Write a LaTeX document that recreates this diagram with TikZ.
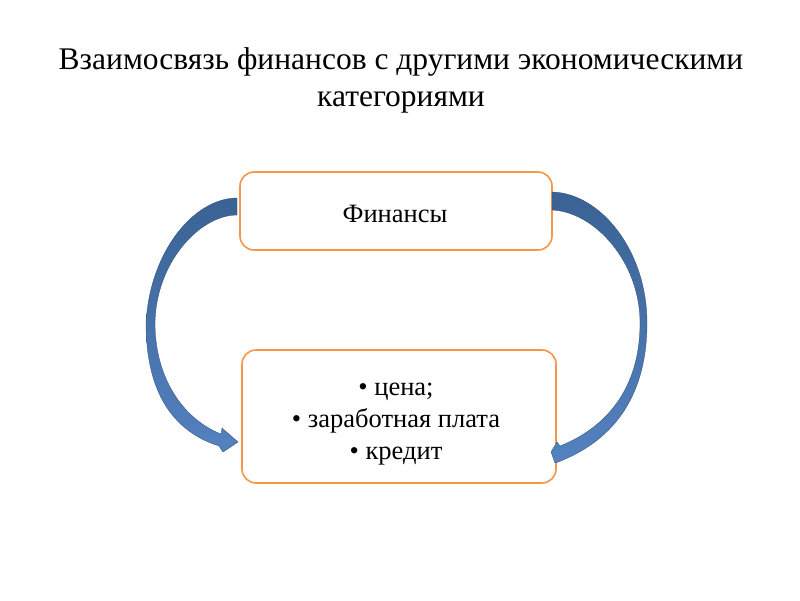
\documentclass[tikz,border=0pt]{standalone}
\usepackage{fontspec}
\setmainfont{Liberation Serif}
\definecolor{boxline}{HTML}{F79646}
\definecolor{arrdark}{HTML}{3A6294}
\definecolor{arrlight}{HTML}{5482C0}
\begin{document}
\begin{tikzpicture}[x=1pt,y=-1pt,
  boxstyle/.style={draw=boxline,line width=1.6pt,rounded corners=14pt,fill=white},
  titletext/.style={anchor=base,inner sep=0pt,font=\fontsize{31.5}{31.5}\selectfont},
  bodytext/.style={anchor=base,inner sep=0pt,font=\fontsize{26.5}{26.5}\selectfont},
  arrowband/.style={top color=arrdark,bottom color=arrlight,draw=arrdark!80!black,line width=0.3pt}]
\useasboundingbox[fill=white] (0,0) rectangle (800,600);
% title
\node[titletext] (t1) at (401,69) {Взаимосвязь финансов с другими экономическими};
\node[titletext] (t2) at (401,106) {категориями};
% boxes
\draw[boxstyle] (240,172) rectangle (552,250);
\draw[boxstyle] (242,350) rectangle (556,483);
\node[bodytext] (fin) at (395,222) {Финансы};
\node[bodytext] (l1) at (396,395) {• цена;};
\node[bodytext] (l2) at (396,427) {• заработная плата};
\node[bodytext] (l3) at (396,459) {• кредит};
% left arrow
\shade[arrowband] (237,198) .. controls (195,198) and (150,250) .. (146,323)
  .. controls (146,395) and (175,432) .. (219,446)
  -- (223,452) -- (238,442) -- (222,428) -- (221,434)
  .. controls (185,420) and (155,380) .. (155,323)
  .. controls (156,262) and (200,215) .. (237,215) -- cycle;
% right arrow
\shade[arrowband] (552,192) .. controls (600,193) and (647,250) .. (647,323)
  .. controls (647,400) and (610,442) .. (558,462)
  -- (555,463) -- (551,452) -- (557,442) -- (560,446)
  .. controls (605,428) and (640,390) .. (640,323)
  .. controls (640,262) and (595,212) .. (552,210) -- cycle;
\end{tikzpicture}
\end{document}
